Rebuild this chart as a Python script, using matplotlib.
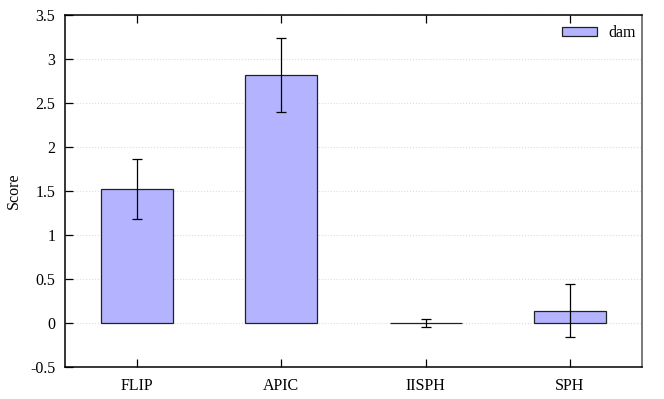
import matplotlib.pyplot as plt
import numpy as np

# data
methods = ['FLIP', 'APIC', 'IISPH', 'SPH']
scores = [1.52, 2.82, 0.0, 0.14]
errors = [0.34, 0.42, 0.05, 0.30]
series_name = 'dam'

plt.rcParams['font.family'] = ['Liberation Serif', 'DejaVu Serif']
plt.rcParams['font.size'] = 11.5

fig = plt.figure(figsize=(6.64, 3.99), dpi=100)
ax = fig.add_axes([65 / 664, 1 - 367 / 399, (642 - 65) / 664, (367 - 15) / 399])

x = np.arange(len(methods))
ax.bar(x, scores, width=0.5, color='#b3b3ff', edgecolor='#222222', linewidth=0.9,
       label=series_name, zorder=2)
ax.errorbar(x, scores, yerr=errors, fmt='none', ecolor='black', elinewidth=0.9,
            capsize=3.5, capthick=0.9, zorder=3)

ax.set_xlim(-0.5, 3.5)
ax.set_ylim(-0.5, 3.5)
ax.set_xticks(x)
ax.set_xticklabels(methods)
ax.set_yticks(np.arange(-0.5, 3.51, 0.5))
ax.set_yticklabels(['-0.5', '0', '0.5', '1', '1.5', '2', '2.5', '3', '3.5'])
ax.tick_params(axis='x', direction='in', top=True, length=6, width=0.9, pad=8)
ax.tick_params(axis='y', direction='in', right=False, length=6, width=0.9, pad=7)
ax.yaxis.grid(True, linestyle=':', color='#dddddd', linewidth=0.8, zorder=0)
ax.set_axisbelow(True)
for s in ax.spines.values():
    s.set_linewidth(1.1)
ax.spines['right'].set_color('#555555')

ax.set_ylabel('Score')
ax.yaxis.set_label_coords(-0.075, 0.5)
ax.legend(loc='upper right', bbox_to_anchor=(1.0, 0.99), frameon=False,
          handlelength=2.2, handleheight=0.5, borderaxespad=0.1,
          borderpad=0.3, handletextpad=0.7)

fig.savefig('out.png', dpi=100)
